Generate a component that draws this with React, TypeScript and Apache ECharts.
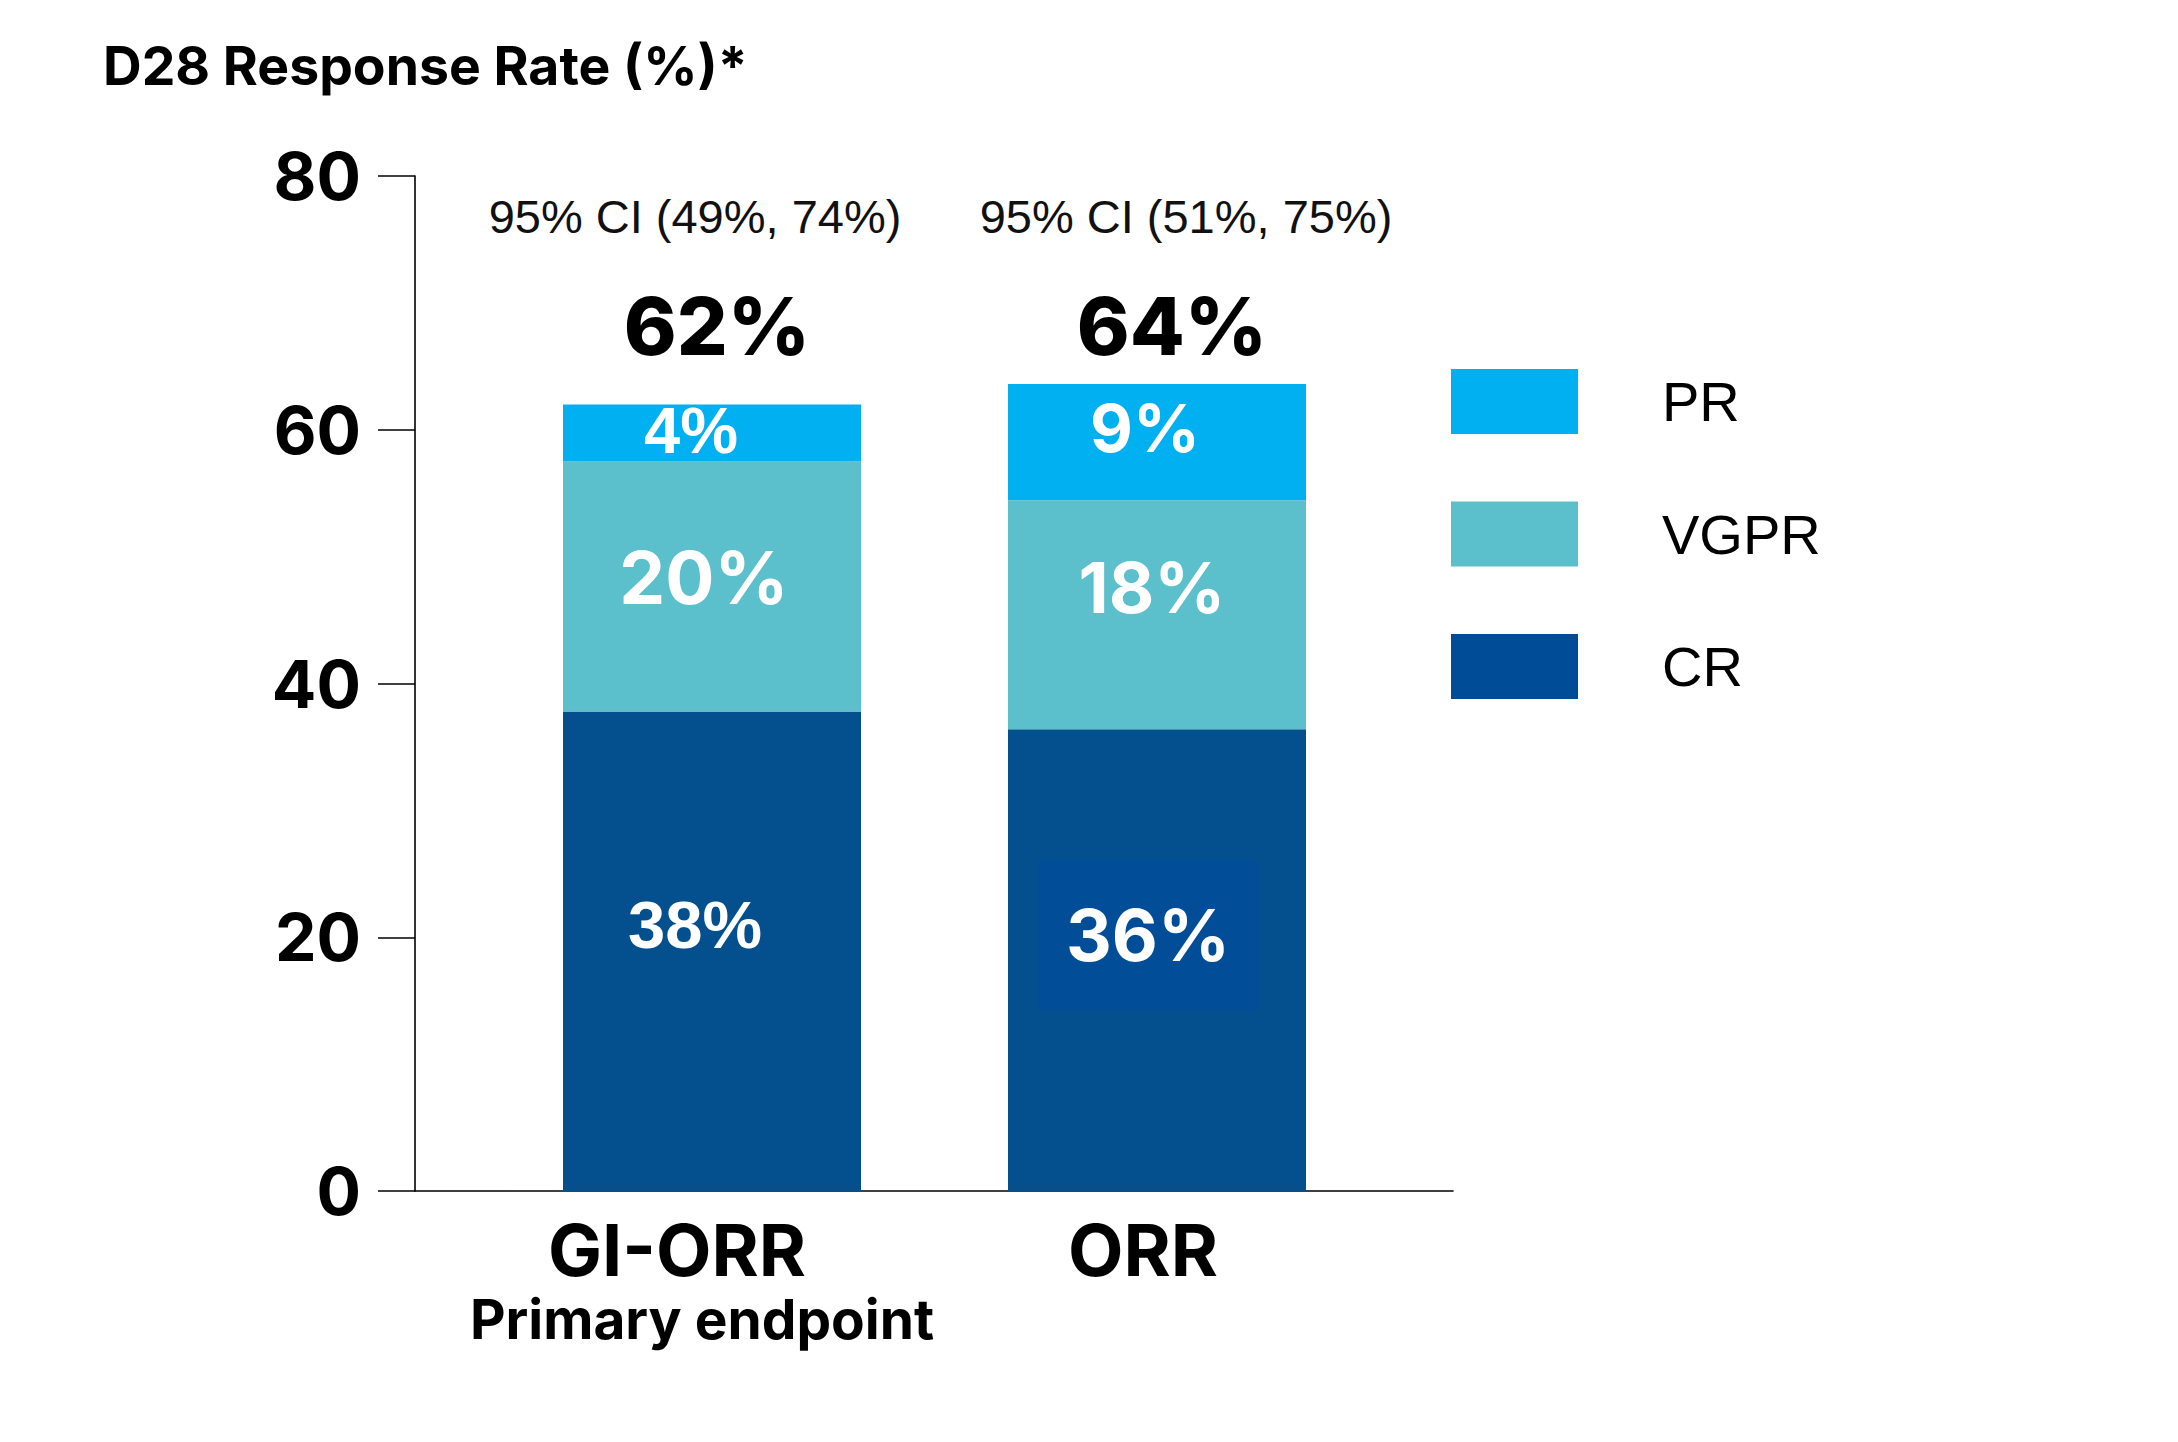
import React, { useEffect, useRef } from "react";
import * as echarts from "echarts";

// ---- data ----
const categories = ["GI-ORR", "ORR"];
const subLabels = ["Primary endpoint", ""];
const crValues = [37.8, 36.4];
const vgprValues = [19.7, 18.05];
const prValues = [4.5, 9.15];
const crLabels = ["38%", "36%"];
const vgprLabels = ["20%", "18%"];
const prLabels = ["4%", "9%"];
const totalLabels = ["62%", "64%"];
const ciLabels = ["95% CI (49%, 74%)", "95% CI (51%, 75%)"];
const seriesNames = ["CR", "VGPR", "PR"];
const legendOrder = ["PR", "VGPR", "CR"];
const yMin = 0;
const yMax = 80;
const yStep = 20;

// ---- styles ----
const INTER = "Inter, 'Liberation Sans', sans-serif";
const ARIAL = "'Liberation Sans', Arial, sans-serif";
const colors: Record<string, string> = { CR: "#04508F", VGPR: "#5BBFCC", PR: "#00B0F0" };
const legendColors: Record<string, string> = { CR: "#004C97", VGPR: "#5BBFCC", PR: "#00B0F0" };

// horizontal shifts (px) of axis-label text, per category index
const catShift = [-35, -14];
const subShift = [-10, 0];
const ciShift = [-17, 29];
const totShift = [5, 15];

type LS = { family: string; size: number; offset: [number, number]; box?: boolean };
const labelStyles: Record<string, LS[]> = {
  PR: [
    { family: ARIAL, size: 65, offset: [-21, -2] },
    { family: INTER, size: 66, offset: [-12, -14] },
  ],
  VGPR: [
    { family: INTER, size: 73, offset: [-8, -9] },
    { family: INTER, size: 70, offset: [-5, -27] },
  ],
  CR: [
    { family: ARIAL, size: 67, offset: [-17, -27] },
    { family: INTER, size: 71, offset: [-9, -25], box: true },
  ],
};

function shiftPad(s: number): number[] {
  return s < 0 ? [0, -2 * s, 0, 0] : [0, 0, 0, 2 * s];
}

function buildSeries(name: string, values: number[], labels: string[]) {
  return {
    name,
    type: "bar",
    stack: "total",
    xAxisIndex: 0,
    yAxisIndex: 0,
    barWidth: 298,
    itemStyle: { color: colors[name] },
    data: values.map((v, i) => {
      const st = labelStyles[name][i];
      return {
        value: v,
        label: {
          show: true,
          position: "inside",
          formatter: labels[i],
          color: "#fff",
          fontFamily: st.family,
          fontWeight: 700,
          fontSize: st.size,
          lineHeight: st.size + 12,
          offset: st.offset,
          ...(st.box
            ? { backgroundColor: "#014D97", padding: [34, 28, 33, 28] }
            : {}),
        },
      };
    }),
  };
}

export default function App() {
  const ref = useRef<HTMLDivElement>(null);
  useEffect(() => {
    if (!ref.current) return;
    const chart = echarts.init(ref.current, null, { renderer: "svg" });

    const bottomRich: Record<string, any> = {};
    const topRich: Record<string, any> = {};
    categories.forEach((_c, i) => {
      bottomRich["a" + i] = {
        fontFamily: INTER, fontWeight: 700, fontSize: 72, lineHeight: 80, color: "#000",
        padding: shiftPad(catShift[i]),
      };
      bottomRich["b" + i] = {
        fontFamily: INTER, fontWeight: 700, fontSize: 55, lineHeight: 60, color: "#000",
        padding: shiftPad(subShift[i]),
      };
      topRich["ci" + i] = {
        fontFamily: ARIAL, fontSize: 47, lineHeight: 56, color: "#111",
        padding: shiftPad(ciShift[i]),
      };
      topRich["tot" + i] = {
        fontFamily: INTER, fontWeight: 800, fontSize: 80, lineHeight: 162, color: "#000",
        padding: shiftPad(totShift[i]),
      };
    });

    const option = {
      animation: false,
      backgroundColor: "#fff",
      title: {
        text: "D28 Response Rate (%)*",
        left: 103,
        top: 35,
        padding: 0,
        textStyle: {
          fontFamily: INTER,
          fontWeight: 700,
          fontSize: 53.5,
          lineHeight: 60,
          color: "#000",
        },
      },
      legend: {
        orient: "vertical",
        left: 1451,
        top: 369,
        padding: 0,
        itemWidth: 127,
        itemHeight: 65,
        itemGap: 67.5,
        icon: "rect",
        selectedMode: false,
        data: legendOrder.map((n) => ({ name: n, itemStyle: { color: legendColors[n] } })),
        textStyle: {
          fontFamily: ARIAL,
          fontSize: 56,
          lineHeight: 36,
          color: "#000",
          padding: [4, 0, 0, 79],
        },
      },
      grid: [
        { left: 489.5, right: 798.5, top: 176, bottom: 251 },
        { left: 415, right: 725, top: 176, bottom: 251 },
      ],
      xAxis: [
        {
          type: "category",
          gridIndex: 0,
          data: categories,
          axisLine: { show: false },
          axisTick: { show: false },
          axisLabel: {
            interval: 0,
            margin: 18,
            formatter: (v: string, i: number) =>
              subLabels[i] ? `{a${i}|${v}}\n{b${i}|${subLabels[i]}}` : `{a${i}|${v}}`,
            rich: bottomRich,
          },
        },
        {
          type: "category",
          gridIndex: 0,
          position: "top",
          data: categories,
          axisLine: { show: false },
          axisTick: { show: false },
          axisLabel: {
            inside: true,
            interval: 0,
            margin: 12,
            formatter: (_v: string, i: number) =>
              `{ci${i}|${ciLabels[i]}}\n{tot${i}|${totalLabels[i]}}`,
            rich: topRich,
          },
        },
        {
          type: "value",
          gridIndex: 1,
          min: 0,
          max: 1,
          axisLine: { show: true, lineStyle: { color: "#000", width: 1.6 } },
          axisTick: { show: false },
          axisLabel: { show: false },
          splitLine: { show: false },
        },
      ],
      yAxis: [
        { type: "value", gridIndex: 0, min: yMin, max: yMax, show: false },
        {
          type: "value",
          gridIndex: 1,
          min: yMin,
          max: yMax,
          interval: yStep,
          axisLine: { show: true, lineStyle: { color: "#000", width: 1.6 } },
          axisTick: { show: true, length: 37, lineStyle: { color: "#000", width: 1.6 } },
          axisLabel: {
            margin: 54,
            fontFamily: INTER,
            fontWeight: 700,
            fontSize: 66,
            color: "#000",
          },
          splitLine: { show: false },
        },
      ],
      series: [
        buildSeries(seriesNames[0], crValues, crLabels),
        buildSeries(seriesNames[1], vgprValues, vgprLabels),
        buildSeries(seriesNames[2], prValues, prLabels),
      ],
    };
    chart.setOption(option as any);
    return () => chart.dispose();
  }, []);
  return (
    <div
      ref={ref}
      style={{ position: "absolute", left: 0, top: 0, width: 2178, height: 1442 }}
    />
  );
}
